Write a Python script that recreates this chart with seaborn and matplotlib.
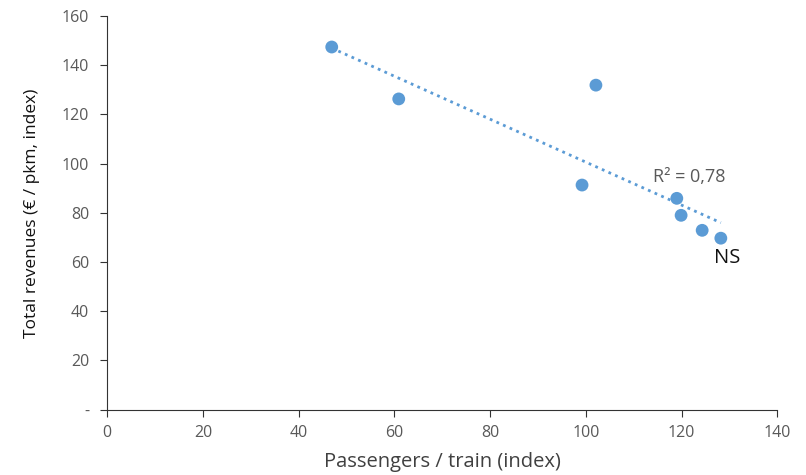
import matplotlib
matplotlib.use("Agg")
import matplotlib.pyplot as plt
import seaborn as sns
import pandas as pd

passengers = [46.9, 60.9, 102.1, 99.2, 119.0, 119.9, 124.3, 128.2]
revenues = [147.4, 126.3, 131.9, 91.3, 85.9, 79.0, 72.9, 69.7]
x_ticks = [0, 20, 40, 60, 80, 100, 120, 140]
y_ticks = [0, 20, 40, 60, 80, 100, 120, 140, 160]
y_tick_labels = ["-", "20", "40", "60", "80", "100", "120", "140", "160"]

df = pd.DataFrame({"passengers": passengers, "revenues": revenues})

sns.set_style("white")
plt.rcParams["font.family"] = ["Open Sans", "DejaVu Sans"]

blue = "#5B9BD5"
fig = plt.figure(figsize=(8.06, 4.75), dpi=100)
ax = fig.add_axes([0.1331, 0.1375, 0.8313, 0.8288])

sns.regplot(data=df, x="passengers", y="revenues", ax=ax, scatter=False, ci=None,
            truncate=True, color=blue,
            line_kws={"linestyle": (0, (1, 1.6)), "linewidth": 2.0})
sns.scatterplot(data=df, x="passengers", y="revenues", ax=ax, color=blue,
                s=85, edgecolor="none", zorder=3)

ax.set_xlim(0, 140)
ax.set_ylim(0, 160)
ax.set_xticks(x_ticks)
ax.set_yticks(y_ticks)
ax.set_yticklabels(y_tick_labels)
ax.tick_params(axis="both", direction="out", length=5, width=0.8, color="#333333",
               labelsize=11.5, labelcolor="#595959", bottom=True, left=True)
ax.tick_params(axis="x", pad=6)
ax.tick_params(axis="y", pad=8)

for side in ["top", "right"]:
    ax.spines[side].set_visible(False)
for side in ["left", "bottom"]:
    ax.spines[side].set_color("#333333")
    ax.spines[side].set_linewidth(0.8)

ax.set_xlabel("Passengers / train (index)", fontsize=14.5, color="#404040", labelpad=8)
ax.set_ylabel("Total revenues (€ / pkm, index)", fontsize=12.5, color="#111111", labelpad=16)

ax.text(114.1, 94.5, "R² = 0,78", fontsize=13, color="#595959", ha="left", va="center")
ax.text(129.5, 61.7, "NS", fontsize=14.5, color="#111111", ha="center", va="center")

fig.savefig("out.png", dpi=100)
